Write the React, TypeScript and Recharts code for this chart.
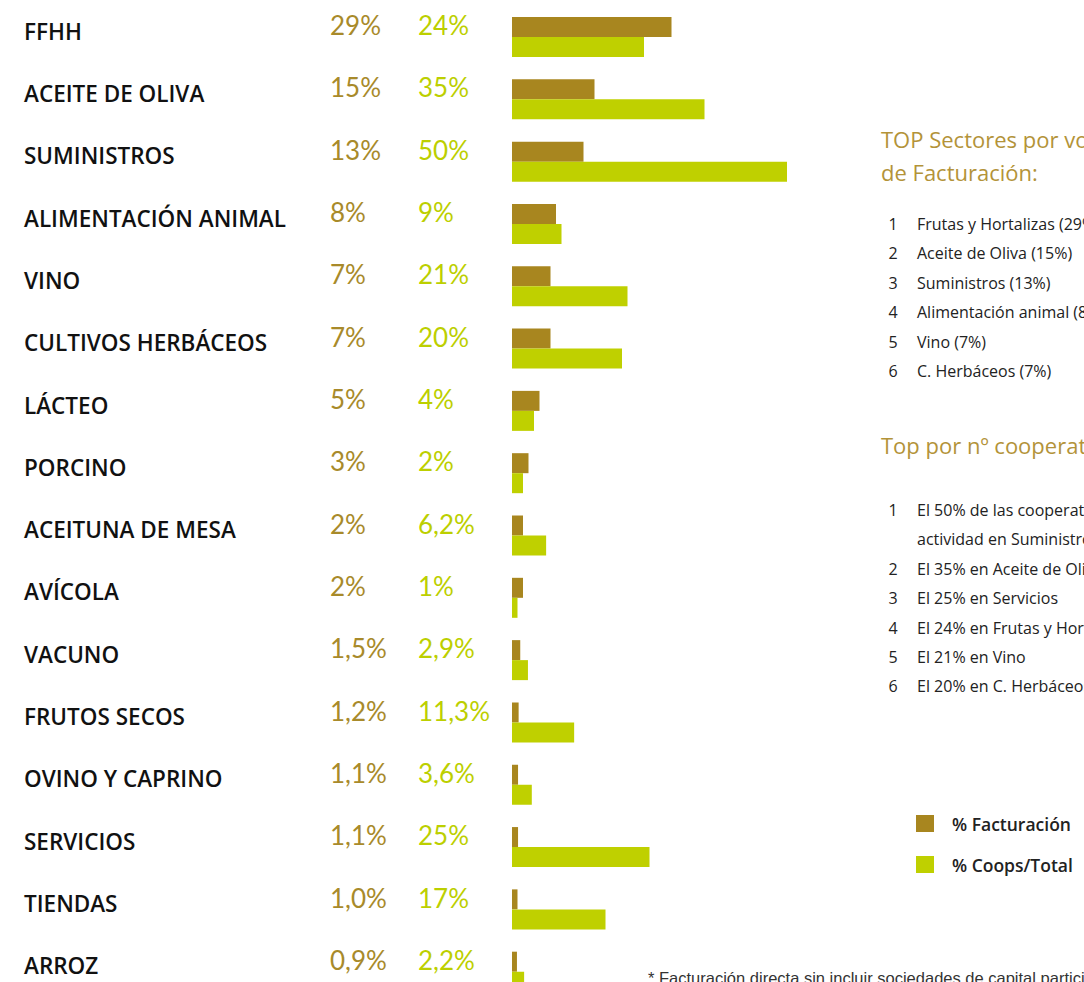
import React from 'react';
import { BarChart, Bar, XAxis, YAxis } from 'recharts';

const sectors = [
  'FFHH',
  'ACEITE DE OLIVA',
  'SUMINISTROS',
  'ALIMENTACIÓN ANIMAL',
  'VINO',
  'CULTIVOS HERBÁCEOS',
  'LÁCTEO',
  'PORCINO',
  'ACEITUNA DE MESA',
  'AVÍCOLA',
  'VACUNO',
  'FRUTOS SECOS',
  'OVINO Y CAPRINO',
  'SERVICIOS',
  'TIENDAS',
  'ARROZ',
];
const facturacion = [29, 15, 13, 8, 7, 7, 5, 3, 2, 2, 1.5, 1.2, 1.1, 1.1, 1.0, 0.9];
const coops = [24, 35, 50, 9, 21, 20, 4, 2, 6.2, 1, 2.9, 11.3, 3.6, 25, 17, 2.2];
const facturacionLabels = ['29%', '15%', '13%', '8%', '7%', '7%', '5%', '3%', '2%', '2%', '1,5%', '1,2%', '1,1%', '1,1%', '1,0%', '0,9%'];
const coopsLabels = ['24%', '35%', '50%', '9%', '21%', '20%', '4%', '2%', '6,2%', '1%', '2,9%', '11,3%', '3,6%', '25%', '17%', '2,2%'];

const topFacturacion = [
  'Frutas y Hortalizas (29%)',
  'Aceite de Oliva (15%)',
  'Suministros (13%)',
  'Alimentación animal (8%)',
  'Vino (7%)',
  'C. Herbáceos (7%)',
];
const topCoops = [
  ['El 50% de las cooperativas tienen', 'actividad en Suministros'],
  ['El 35% en Aceite de Oliva'],
  ['El 25% en Servicios'],
  ['El 24% en Frutas y Hortalizas'],
  ['El 21% en Vino'],
  ['El 20% en C. Herbáceos'],
];

const BROWN = '#a8861f';
const GREEN = '#bfd000';
const GOLD_TEXT = '#a88a2a';
const GREEN_TEXT = '#bccf00';
const TITLE = '#b39339';

const data = sectors.map((sector, i) => ({
  sector,
  facturacion: facturacion[i],
  coops: coops[i],
}));

const SectorTick = (props: any) => {
  const { y, payload } = props;
  const i = props.index ?? payload.index;
  return (
    <g>
      <text x={24} y={y - 6} dominantBaseline="central" fontFamily="'Open Sans', sans-serif" fontSize={22.5} fontWeight={600} fill="#111">
        {payload.value}
      </text>
      <text x={330} y={y - 12} dominantBaseline="central" fontFamily="Lato, sans-serif" fontSize={26} fill={GOLD_TEXT}>
        {facturacionLabels[i]}
      </text>
      <text x={418} y={y - 12} dominantBaseline="central" fontFamily="Lato, sans-serif" fontSize={26} fill={GREEN_TEXT}>
        {coopsLabels[i]}
      </text>
    </g>
  );
};

const listRow: React.CSSProperties = { display: 'flex', height: 29.4, lineHeight: '29.4px' };
const numCell: React.CSSProperties = { width: 24, marginRight: 12, textAlign: 'center', flexShrink: 0 };

export default function App() {
  return (
    <div style={{ position: 'absolute', left: 0, top: 0, width: 1084, height: 982, overflow: 'hidden', background: '#fff' }}>
      <BarChart
        width={1084}
        height={1003}
        data={data}
        layout="vertical"
        margin={{ top: 6, right: 242, left: 0, bottom: 0 }}
        barGap={0}
      >
        <XAxis type="number" domain={[0, 60]} hide />
        <YAxis
          type="category"
          dataKey="sector"
          width={512}
          axisLine={false}
          tickLine={false}
          interval={0}
          tick={<SectorTick />}
        />
        <Bar dataKey="facturacion" name="% Facturación" fill={BROWN} barSize={20} isAnimationActive={false} />
        <Bar dataKey="coops" name="% Coops/Total" fill={GREEN} barSize={20} isAnimationActive={false} />
      </BarChart>

      <div style={{ position: 'absolute', left: 881, top: 123, whiteSpace: 'nowrap', fontFamily: "'Open Sans', sans-serif", fontSize: 22, lineHeight: '33px', color: TITLE }}>
        <div>TOP Sectores por volumen</div>
        <div>de Facturación:</div>
      </div>
      <div style={{ position: 'absolute', left: 881, top: 210, whiteSpace: 'nowrap', fontFamily: "'Open Sans', sans-serif", fontSize: 16, color: '#222' }}>
        {topFacturacion.map((t, i) => (
          <div key={t} style={listRow}>
            <span style={numCell}>{i + 1}</span>
            <span>{t}</span>
          </div>
        ))}
      </div>

      <div style={{ position: 'absolute', left: 881, top: 429, whiteSpace: 'nowrap', fontFamily: "'Open Sans', sans-serif", fontSize: 22, lineHeight: '33px', color: TITLE }}>
        Top por nº cooperativas
      </div>
      <div style={{ position: 'absolute', left: 881, top: 496, whiteSpace: 'nowrap', fontFamily: "'Open Sans', sans-serif", fontSize: 16, color: '#222' }}>
        {topCoops.map((lines, i) =>
          lines.map((t, j) => (
            <div key={t} style={listRow}>
              <span style={numCell}>{j === 0 ? i + 1 : ''}</span>
              <span>{t}</span>
            </div>
          ))
        )}
      </div>

      <div style={{ position: 'absolute', left: 916, top: 803, whiteSpace: 'nowrap', fontFamily: "'Open Sans', sans-serif", fontSize: 17.5, fontWeight: 600, color: '#222' }}>
        {[
          { label: '% Facturación', color: BROWN },
          { label: '% Coops/Total', color: GREEN },
        ].map((it) => (
          <div key={it.label} style={{ display: 'flex', alignItems: 'center', height: 41 }}>
            <span style={{ width: 18, height: 17, background: it.color, display: 'inline-block', marginRight: 18 }} />
            <span>{it.label}</span>
          </div>
        ))}
      </div>

      <div style={{ position: 'absolute', left: 648, top: 969, whiteSpace: 'nowrap', fontFamily: "'Liberation Sans', Arial, sans-serif", fontSize: 16.5, color: '#333' }}>
        * Facturación directa sin incluir sociedades de capital participadas
      </div>
    </div>
  );
}
